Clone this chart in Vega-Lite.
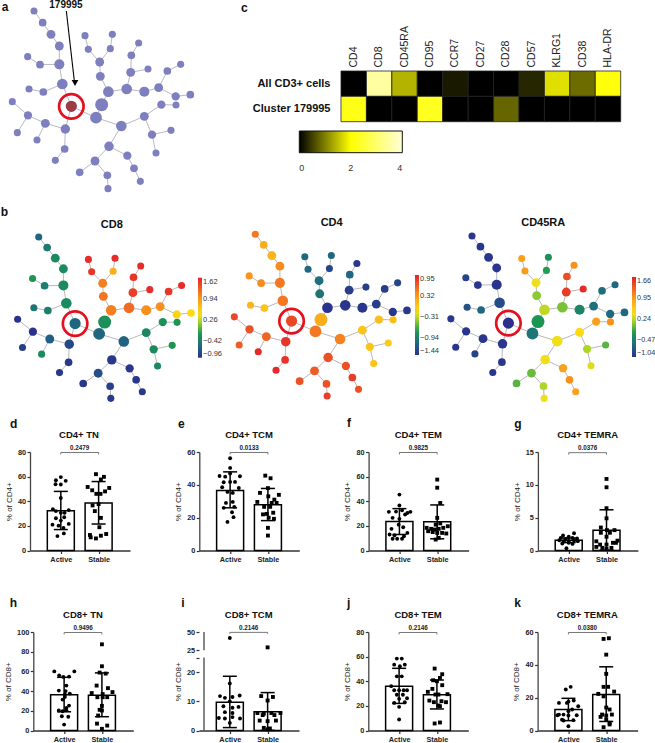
{"$schema":"https://vega.github.io/schema/vega-lite/v6.json","padding":0,"background":"white","bounds":"flush","spacing":0,
"config":{"view":{"stroke":null},"font":"Liberation Sans","text":{"font":"Liberation Sans"},
"axisX":{"grid":false,"domainColor":"#333","domainWidth":1.3,"tickColor":"#333","tickWidth":1.2,"tickSize":3,"labelFont":"Liberation Sans","labelFontSize":7.3,"labelFontWeight":"bold","labelColor":"#222","labelPadding":1.5,"labelAngle":0,"labelFlush":false},
"axisY":{"grid":false,"domainColor":"#444","domainWidth":1.3,"tickColor":"#333","tickWidth":1.2,"tickSize":3,"labelFont":"Liberation Sans","labelFontSize":7.3,"labelFontWeight":"bold","labelColor":"#222","labelPadding":1.5,"titleFont":"Liberation Sans","titleFontSize":8,"titleFontWeight":"normal","titleColor":"#222","titlePadding":4},
"title":{"font":"Liberation Sans","fontSize":9.5,"fontWeight":"bold","color":"#111","offset":13},
"legend":{"labelFont":"Liberation Sans","labelFontSize":7.5,"labelColor":"#333"}},
"datasets":{
"nodes":[{"id":1,"x":99,"y":30,"r":12,"cd8":-0.6,"cd4":0.5,"ra":-1},{"id":2,"x":125,"y":65,"r":13,"cd8":-0.45,"cd4":0.2,"ra":-1},{"id":3,"x":150,"y":100,"r":15,"cd8":-0.3,"cd4":0.15,"ra":-1},{"id":4,"x":175,"y":135,"r":15,"cd8":-0.3,"cd4":0.4,"ra":-1},{"id":5,"x":175,"y":190,"r":17,"cd8":-0.3,"cd4":0.5,"ra":-1},{"id":6,"x":184,"y":249,"r":18,"cd8":-0.3,"cd4":0.5,"ra":-0.85},{"id":7,"x":80,"y":167,"r":12,"cd8":-0.2,"cd4":0.35,"ra":-0.9},{"id":8,"x":117,"y":191,"r":13,"cd8":-0.4,"cd4":0.4,"ra":-1},{"id":9,"x":84,"y":264,"r":12,"cd8":-0.5,"cd4":0.15,"ra":-0.8},{"id":10,"x":127,"y":273,"r":13,"cd8":-0.4,"cd4":0.05,"ra":-0.65},{"id":11,"x":211,"y":316,"r":19,"cd8":-0.6,"cd4":0.75,"ra":-1.03},{"id":12,"x":34,"y":302,"r":12,"cd8":-0.95,"cd4":0.75,"ra":-1},{"id":13,"x":81,"y":343,"r":14,"cd8":-0.95,"cd4":0.7,"ra":-1},{"id":14,"x":49,"y":395,"r":12,"cd8":-0.85,"cd4":0.65,"ra":-1},{"id":15,"x":133,"y":367,"r":15,"cd8":-0.65,"cd4":0.6,"ra":-1},{"id":16,"x":108,"y":417,"r":12,"cd8":-0.3,"cd4":0.9,"ra":-0.9},{"id":17,"x":193,"y":384,"r":16,"cd8":-0.8,"cd4":0.85,"ra":-1},{"id":18,"x":191,"y":444,"r":13,"cd8":-0.9,"cd4":0.85,"ra":-1},{"id":19,"x":163,"y":478,"r":12,"cd8":-0.9,"cd4":0.9,"ra":-1},{"id":20,"x":285,"y":350,"r":20,"cd8":-0.6,"cd4":0.5,"ra":-0.55},{"id":21,"x":302,"y":311,"r":22,"cd8":-0.25,"cd4":0.2,"ra":-0.25},{"id":22,"x":322,"y":272,"r":18,"cd8":1.1,"cd4":-1.43,"ra":0.25},{"id":23,"x":298,"y":226,"r":15,"cd8":1.15,"cd4":-1,"ra":0.1},{"id":24,"x":296,"y":183,"r":15,"cd8":1.1,"cd4":-1.05,"ra":0.4},{"id":25,"x":262,"y":145,"r":12,"cd8":1.5,"cd4":-1.1,"ra":0.95},{"id":26,"x":252,"y":104,"r":12,"cd8":1.55,"cd4":-1.1,"ra":0.9},{"id":27,"x":328,"y":143,"r":12,"cd8":0.8,"cd4":-1.3,"ra":-0.2},{"id":28,"x":334,"y":100,"r":12,"cd8":1.55,"cd4":-1.1,"ra":-0.3},{"id":29,"x":377,"y":264,"r":18,"cd8":1.2,"cd4":-1.4,"ra":0.05},{"id":30,"x":389,"y":214,"r":15,"cd8":1.45,"cd4":-1.35,"ra":1.5},{"id":31,"x":391,"y":163,"r":13,"cd8":1.5,"cd4":-1.1,"ra":1.4},{"id":32,"x":413,"y":126,"r":12,"cd8":1.55,"cd4":-1.4,"ra":1},{"id":33,"x":441,"y":204,"r":12,"cd8":1.55,"cd4":-1.35,"ra":1.6},{"id":34,"x":430,"y":272,"r":17,"cd8":1,"cd4":-1.4,"ra":-0.4},{"id":35,"x":473,"y":260,"r":15,"cd8":1,"cd4":-1.35,"ra":-0.6},{"id":36,"x":499,"y":210,"r":13,"cd8":1.5,"cd4":-1.35,"ra":-0.6},{"id":37,"x":539,"y":190,"r":12,"cd8":1.55,"cd4":-1.3,"ra":-0.65},{"id":38,"x":524,"y":286,"r":14,"cd8":0.55,"cd4":-1.4,"ra":-0.65},{"id":39,"x":568,"y":281,"r":13,"cd8":0.5,"cd4":-1.4,"ra":-0.65},{"id":40,"x":361,"y":375,"r":18,"cd8":-0.62,"cd4":0.45,"ra":0.4},{"id":41,"x":430,"y":346,"r":15,"cd8":-0.35,"cd4":0.05,"ra":0.5},{"id":42,"x":481,"y":311,"r":14,"cd8":-0.25,"cd4":0.1,"ra":0.9},{"id":43,"x":525,"y":312,"r":12,"cd8":-0.2,"cd4":0.1,"ra":1},{"id":44,"x":453,"y":401,"r":14,"cd8":-0.3,"cd4":0.05,"ra":0.2},{"id":45,"x":510,"y":388,"r":12,"cd8":-0.2,"cd4":0.02,"ra":-0.05},{"id":46,"x":465,"y":456,"r":12,"cd8":-0.3,"cd4":0.05,"ra":0.35},{"id":47,"x":324,"y":436,"r":16,"cd8":-0.9,"cd4":0.7,"ra":0.4},{"id":48,"x":379,"y":464,"r":14,"cd8":-0.9,"cd4":0.7,"ra":0.9},{"id":49,"x":399,"y":502,"r":13,"cd8":-0.9,"cd4":0.8,"ra":1},{"id":50,"x":418,"y":541,"r":12,"cd8":-0.9,"cd4":0.7,"ra":0.9},{"id":51,"x":282,"y":480,"r":15,"cd8":-0.75,"cd4":0.65,"ra":0},{"id":52,"x":236,"y":514,"r":13,"cd8":-0.9,"cd4":0.7,"ra":-0.05},{"id":53,"x":319,"y":523,"r":13,"cd8":-0.85,"cd4":0.7,"ra":0.2},{"id":54,"x":321,"y":563,"r":12,"cd8":-0.9,"cd4":0.8,"ra":0.4}],
"edges":[{"a":1,"b":2},{"a":2,"b":3},{"a":3,"b":4},{"a":4,"b":5},{"a":5,"b":6},{"a":5,"b":8},{"a":8,"b":7},{"a":6,"b":10},{"a":10,"b":9},{"a":6,"b":11},{"a":11,"b":20},{"a":11,"b":17},{"a":17,"b":15},{"a":15,"b":13},{"a":13,"b":12},{"a":13,"b":14},{"a":15,"b":16},{"a":17,"b":18},{"a":18,"b":19},{"a":20,"b":21},{"a":21,"b":22},{"a":22,"b":23},{"a":23,"b":24},{"a":24,"b":25},{"a":25,"b":26},{"a":24,"b":27},{"a":27,"b":28},{"a":22,"b":29},{"a":29,"b":30},{"a":30,"b":31},{"a":31,"b":32},{"a":30,"b":33},{"a":29,"b":34},{"a":34,"b":35},{"a":35,"b":36},{"a":36,"b":37},{"a":35,"b":38},{"a":38,"b":39},{"a":20,"b":40},{"a":40,"b":41},{"a":41,"b":42},{"a":42,"b":43},{"a":41,"b":44},{"a":44,"b":45},{"a":44,"b":46},{"a":40,"b":47},{"a":47,"b":48},{"a":48,"b":49},{"a":49,"b":50},{"a":47,"b":51},{"a":51,"b":52},{"a":51,"b":53},{"a":53,"b":54}]
},
"vconcat":[
{"bounds":"flush","spacing":68.3,"resolve":{"scale":{"color":"independent"},"legend":{"color":"independent"}},"hconcat":[
{"width":230,"height":190,"layer":[
{"data":{"name":"edges"},"transform":[{"lookup":"a","from":{"data":{"name":"nodes"},"key":"id","fields":["x","y"]},"as":["x1","y1"]},{"lookup":"b","from":{"data":{"name":"nodes"},"key":"id","fields":["x","y"]},"as":["x2","y2"]}],"mark":{"type":"rule","stroke":"#b9b9c4","strokeWidth":1},"encoding":{"x":{"field":"x1","type":"quantitative","scale":{"domain":[0,690],"nice":false},"axis":null},"y":{"field":"y1","type":"quantitative","scale":{"domain":[0,570],"reverse":true,"nice":false},"axis":null},"x2":{"field":"x2"},"y2":{"field":"y2"}}},
{"data":{"name":"nodes"},"mark":{"type":"circle","opacity":1},"encoding":{"x":{"field":"x","type":"quantitative"},"y":{"field":"y","type":"quantitative"},"size":{"field":"r","type":"quantitative","scale":{"type":"pow","exponent":2,"domain":[0,22],"range":[0,169]},"legend":null},"color":{"condition":{"test":"datum.id==11","value":"#9a3d45"},"value":"#7e7fbe"}}},
{"data":{"name":"nodes"},"transform":[{"filter":"datum.id==11"}],"mark":{"type":"point","size":600,"filled":false,"stroke":"#e5101d","strokeWidth":2.7,"opacity":1},"encoding":{"x":{"field":"x","type":"quantitative"},"y":{"field":"y","type":"quantitative"}}},
{"data":{"values":[{"x":196,"y":30,"x2":220,"y2":240}]},"mark":{"type":"rule","stroke":"#000","strokeWidth":1.1},"encoding":{"x":{"field":"x","type":"quantitative"},"y":{"field":"y","type":"quantitative"},"x2":{"field":"x2"},"y2":{"field":"y2"}}},
{"data":{"values":[{"x":222,"y":246}]},"mark":{"type":"point","shape":"triangle-down","filled":true,"size":45,"fill":"#000","opacity":1},"encoding":{"x":{"field":"x","type":"quantitative"},"y":{"field":"y","type":"quantitative"}}},
{"data":{"values":[{"x":195,"y":13,"t":"179995"}]},"mark":{"type":"text","fontSize":10,"fontWeight":"bold","color":"#111"},"encoding":{"x":{"field":"x","type":"quantitative"},"y":{"field":"y","type":"quantitative"},"text":{"field":"t"}}},
{"data":{"values":[{"x":12,"y":18,"t":"a"}]},"mark":{"type":"text","fontSize":12,"fontWeight":"bold","color":"#111"},"encoding":{"x":{"field":"x","type":"quantitative"},"y":{"field":"y","type":"quantitative"},"text":{"field":"t"}}}
]},
{"width":321.4,"height":190,"title":{"text":"c","anchor":"start","frame":"group","dx":-58.3,"dy":14,"fontSize":12,"offset":0},
"data":{"values":[{"m":"CD4","r":"All CD3+ cells","v":0},{"m":"CD8","r":"All CD3+ cells","v":3.5},{"m":"CD45RA","r":"All CD3+ cells","v":1.4},{"m":"CD95","r":"All CD3+ cells","v":0},{"m":"CCR7","r":"All CD3+ cells","v":0.2},{"m":"CD27","r":"All CD3+ cells","v":0},{"m":"CD28","r":"All CD3+ cells","v":0},{"m":"CD57","r":"All CD3+ cells","v":0.3},{"m":"KLRG1","r":"All CD3+ cells","v":1.75},{"m":"CD38","r":"All CD3+ cells","v":0.85},{"m":"HLA-DR","r":"All CD3+ cells","v":2.1},{"m":"CD4","r":"Cluster 179995","v":2.2},{"m":"CD8","r":"Cluster 179995","v":0},{"m":"CD45RA","r":"Cluster 179995","v":0},{"m":"CD95","r":"Cluster 179995","v":2.3},{"m":"CCR7","r":"Cluster 179995","v":0},{"m":"CD27","r":"Cluster 179995","v":0},{"m":"CD28","r":"Cluster 179995","v":0.8},{"m":"CD57","r":"Cluster 179995","v":0},{"m":"KLRG1","r":"Cluster 179995","v":0},{"m":"CD38","r":"Cluster 179995","v":0},{"m":"HLA-DR","r":"Cluster 179995","v":0}]},
"mark":{"type":"rect","stroke":"#222","strokeWidth":0.8},
"encoding":{"x":{"field":"m","type":"nominal","sort":null,"scale":{"type":"band","range":[41.7,321.4],"paddingInner":0,"paddingOuter":0},"axis":{"orient":"top","offset":-70,"title":null,"domain":false,"ticks":false,"labelAngle":-90,"labelFontSize":10.5,"labelFontWeight":"normal","labelColor":"#222","labelPadding":4}},
"y":{"field":"r","type":"nominal","sort":null,"scale":{"type":"band","range":[70,120.7],"paddingInner":0,"paddingOuter":0},"axis":{"offset":-41.7,"title":null,"domain":false,"ticks":false,"labelFontSize":11,"labelFontWeight":"bold","labelColor":"#111","labelPadding":11}},
"color":{"field":"v","type":"quantitative","scale":{"domain":[0,2,4],"range":["#000000","#ffff00","#ffffd8"],"interpolate":"rgb"},"legend":{"orient":"none","direction":"horizontal","legendX":0,"legendY":130,"title":null,"gradientLength":103,"gradientThickness":21.7,"values":[0,2,4],"labelFontSize":9,"gradientStrokeColor":"#111","gradientStrokeWidth":1,"labelOffset":11}}}}
]},
{"width":1,"height":226,"data":{"values":[{"a":1}]},"mark":{"type":"point","opacity":0,"size":0,"strokeWidth":0},"encoding":{}},
{"bounds":"flush","spacing":0,"resolve":{"scale":{"color":"independent"}},"hconcat":[
{"width":222,"height":173,"layer":[
{"data":{"name":"edges"},"transform":[{"lookup":"a","from":{"data":{"name":"nodes"},"key":"id","fields":["x","y"]},"as":["x1","y1"]},{"lookup":"b","from":{"data":{"name":"nodes"},"key":"id","fields":["x","y"]},"as":["x2","y2"]}],"mark":{"type":"rule","stroke":"#b9b9b9","strokeWidth":1},"encoding":{"x":{"field":"x1","type":"quantitative","scale":{"domain":[-17.2,666.5],"nice":false},"axis":null},"y":{"field":"y1","type":"quantitative","scale":{"domain":[-3,568.5],"reverse":true,"nice":false},"axis":null},"x2":{"field":"x2"},"y2":{"field":"y2"}}},
{"data":{"name":"nodes"},"mark":{"type":"circle","opacity":1},"encoding":{"x":{"field":"x","type":"quantitative"},"y":{"field":"y","type":"quantitative"},"size":{"field":"r","type":"quantitative","scale":{"type":"pow","exponent":2,"domain":[0,22],"range":[0,169]},"legend":null},"color":{"field":"cd8","type":"quantitative","scale":{"domain":[-0.96,-0.573,-0.186,0.201,0.459,0.975,1.62],"range":["#2b2f8f","#1f6a80","#1a9850","#a6d42c","#ffe014","#f8951d","#e3202a"],"interpolate":"rgb"},"legend":{"orient":"none","legendX":197,"legendY":50.7,"title":null,"gradientLength":80,"gradientThickness":4,"labelOffset":1,"values":[-0.96,-0.42,0.26,0.94,1.62],"format":".2f"}}}},
{"data":{"name":"nodes"},"transform":[{"filter":"datum.id==11"}],"mark":{"type":"point","size":600,"filled":false,"stroke":"#e5101d","strokeWidth":2.7,"opacity":1},"encoding":{"x":{"field":"x","type":"quantitative"},"y":{"field":"y","type":"quantitative"}}},
{"data":{"values":[{"x":324,"y":-8.6,"t":"CD8"}]},"mark":{"type":"text","fontSize":11,"fontWeight":"bold","color":"#111"},"encoding":{"x":{"field":"x","type":"quantitative"},"y":{"field":"y","type":"quantitative"},"text":{"field":"t"}}},
{"data":{"values":[{"x":-7,"y":-53.6,"t":"b"}]},"mark":{"type":"text","fontSize":12,"fontWeight":"bold","color":"#111"},"encoding":{"x":{"field":"x","type":"quantitative"},"y":{"field":"y","type":"quantitative"},"text":{"field":"t"}}}
]},
{"width":222,"height":173,"layer":[
{"data":{"name":"edges"},"transform":[{"lookup":"a","from":{"data":{"name":"nodes"},"key":"id","fields":["x","y"]},"as":["x1","y1"]},{"lookup":"b","from":{"data":{"name":"nodes"},"key":"id","fields":["x","y"]},"as":["x2","y2"]}],"mark":{"type":"rule","stroke":"#b9b9b9","strokeWidth":1},"encoding":{"x":{"field":"x1","type":"quantitative","scale":{"domain":[-1,685.5],"nice":false},"axis":null},"y":{"field":"y1","type":"quantitative","scale":{"domain":[5.9,576.1],"reverse":true,"nice":false},"axis":null},"x2":{"field":"x2"},"y2":{"field":"y2"}}},
{"data":{"name":"nodes"},"mark":{"type":"circle","opacity":1},"encoding":{"x":{"field":"x","type":"quantitative"},"y":{"field":"y","type":"quantitative"},"size":{"field":"r","type":"quantitative","scale":{"type":"pow","exponent":2,"domain":[0,22],"range":[0,169]},"legend":null},"color":{"field":"cd4","type":"quantitative","scale":{"domain":[-1.44,-1.08,-0.723,-0.365,-0.126,0.353,0.95],"range":["#2b2f8f","#1f6a80","#1a9850","#a6d42c","#ffe014","#f8951d","#e3202a"],"interpolate":"rgb"},"legend":{"orient":"none","legendX":192,"legendY":48,"title":null,"gradientLength":80,"gradientThickness":4,"labelOffset":1,"values":[-1.44,-0.94,-0.31,0.32,0.95],"format":".2f"}}}},
{"data":{"name":"nodes"},"transform":[{"filter":"datum.id==11"}],"mark":{"type":"point","size":600,"filled":false,"stroke":"#e5101d","strokeWidth":2.7,"opacity":1},"encoding":{"x":{"field":"x","type":"quantitative"},"y":{"field":"y","type":"quantitative"}}},
{"data":{"values":[{"x":335,"y":-7.2,"t":"CD4"}]},"mark":{"type":"text","fontSize":11,"fontWeight":"bold","color":"#111"},"encoding":{"x":{"field":"x","type":"quantitative"},"y":{"field":"y","type":"quantitative"},"text":{"field":"t"}}}
]},
{"width":211,"height":173,"layer":[
{"data":{"name":"edges"},"transform":[{"lookup":"a","from":{"data":{"name":"nodes"},"key":"id","fields":["x","y"]},"as":["x1","y1"]},{"lookup":"b","from":{"data":{"name":"nodes"},"key":"id","fields":["x","y"]},"as":["x2","y2"]}],"mark":{"type":"rule","stroke":"#b9b9b9","strokeWidth":1},"encoding":{"x":{"field":"x1","type":"quantitative","scale":{"domain":[16,665],"nice":false},"axis":null},"y":{"field":"y1","type":"quantitative","scale":{"domain":[0.5,568.3],"reverse":true,"nice":false},"axis":null},"x2":{"field":"x2"},"y2":{"field":"y2"}}},
{"data":{"name":"nodes"},"mark":{"type":"circle","opacity":1},"encoding":{"x":{"field":"x","type":"quantitative"},"y":{"field":"y","type":"quantitative"},"size":{"field":"r","type":"quantitative","scale":{"type":"pow","exponent":2,"domain":[0,22],"range":[0,169]},"legend":null},"color":{"field":"ra","type":"quantitative","scale":{"domain":[-1.04,-0.635,-0.23,0.175,0.445,0.985,1.66],"range":["#2b2f8f","#1f6a80","#1a9850","#a6d42c","#ffe014","#f8951d","#e3202a"],"interpolate":"rgb"},"legend":{"orient":"none","legendX":187,"legendY":50,"title":null,"gradientLength":80,"gradientThickness":4,"labelOffset":1,"labelFontSize":7.2,"values":[-1.04,-0.47,0.24,0.95,1.66],"format":".2f"}}}},
{"data":{"name":"nodes"},"transform":[{"filter":"datum.id==11"}],"mark":{"type":"point","size":600,"filled":false,"stroke":"#e5101d","strokeWidth":2.7,"opacity":1},"encoding":{"x":{"field":"x","type":"quantitative"},"y":{"field":"y","type":"quantitative"}}},
{"data":{"values":[{"x":318,"y":-12.7,"t":"CD45RA"}]},"mark":{"type":"text","fontSize":11,"fontWeight":"bold","color":"#111"},"encoding":{"x":{"field":"x","type":"quantitative"},"y":{"field":"y","type":"quantitative"},"text":{"field":"t"}}}
]}
]},
{"width":1,"height":224.7,"data":{"values":[{"a":1}]},"mark":{"type":"point","opacity":0,"size":0,"strokeWidth":0},"encoding":{}},
{"bounds":"flush","spacing":28,"hconcat":[
{"width":1,"height":1,"data":{"values":[{"a":1}]},"mark":{"type":"point","opacity":0,"size":0,"strokeWidth":0},"encoding":{}},
{"bounds":"flush","spacing":69.3,"hconcat":[
{"width":100,"height":98.5,"encoding":{"x":{"field":"x","type":"quantitative","scale":{"domain":[0.317,2.698],"nice":false,"zero":false},"axis":{"values":[1,2],"labelExpr":"datum.value==1?'Active':'Stable'","title":null}},"y":{"field":"y","type":"quantitative","scale":{"domain":[0,80],"nice":false},"axis":{"values":[0,20,40,60,80],"title":"% of CD4+"}}},"layer":[
{"data":{"values":[{"x":1,"y":32.3,"lo":17,"hi":48},{"x":2,"y":38.5,"lo":21.5,"hi":56}]},"layer":[{"mark":{"type":"bar","orient":"vertical","size":27,"fill":"white","stroke":"black","strokeWidth":1.5}}, {"mark":{"type":"rule","stroke":"black","strokeWidth":1.5},"encoding":{"y":{"field":"lo","type":"quantitative"},"y2":{"field":"hi"}}},{"mark":{"type":"tick","orient":"horizontal","size":14,"thickness":1.5,"color":"black","opacity":1},"encoding":{"y":{"field":"lo","type":"quantitative"}}},{"mark":{"type":"tick","orient":"horizontal","size":14,"thickness":1.5,"color":"black","opacity":1},"encoding":{"y":{"field":"hi","type":"quantitative"}}}]},
{"data":{"values":[{"x":0.87,"y":57.1,"g":"Active"},{"x":1,"y":59.6,"g":"Active"},{"x":1.13,"y":56.6,"g":"Active"},{"x":0.86,"y":53.8,"g":"Active"},{"x":1,"y":53.6,"g":"Active"},{"x":1,"y":42.6,"g":"Active"},{"x":0.79,"y":33.6,"g":"Active"},{"x":1.21,"y":32.8,"g":"Active"},{"x":0.87,"y":32,"g":"Active"},{"x":1,"y":30.6,"g":"Active"},{"x":1.1,"y":30.6,"g":"Active"},{"x":0.87,"y":26.2,"g":"Active"},{"x":1.09,"y":27,"g":"Active"},{"x":1,"y":24.3,"g":"Active"},{"x":0.78,"y":21,"g":"Active"},{"x":0.94,"y":20.2,"g":"Active"},{"x":1.21,"y":21.6,"g":"Active"},{"x":1.07,"y":18.3,"g":"Active"},{"x":0.91,"y":11.7,"g":"Active"},{"x":1.08,"y":13.9,"g":"Active"},{"x":1.93,"y":62,"g":"Stable"},{"x":2.14,"y":59.8,"g":"Stable"},{"x":2.06,"y":57.7,"g":"Stable"},{"x":1.71,"y":51.6,"g":"Stable"},{"x":2.28,"y":50.8,"g":"Stable"},{"x":1.83,"y":48.9,"g":"Stable"},{"x":2.17,"y":48,"g":"Stable"},{"x":1.94,"y":46,"g":"Stable"},{"x":2.05,"y":46,"g":"Stable"},{"x":2,"y":37.7,"g":"Stable"},{"x":1.84,"y":36.6,"g":"Stable"},{"x":1.9,"y":32,"g":"Stable"},{"x":2.06,"y":26.5,"g":"Stable"},{"x":2.02,"y":18.9,"g":"Stable"},{"x":1.77,"y":12.6,"g":"Stable"},{"x":2.2,"y":13.4,"g":"Stable"},{"x":2.06,"y":12,"g":"Stable"},{"x":1.79,"y":10.7,"g":"Stable"},{"x":1.93,"y":9.8,"g":"Stable"}]},"mark":{"type":"point","filled":true,"size":15,"color":"black","opacity":1},"encoding":{"shape":{"field":"g","scale":{"domain":["Active","Stable"],"range":["circle","square"]},"legend":null}}},
{"data":{"values":[{"x":1,"y":78,"o":1},{"x":1,"y":79.6,"o":2},{"x":2,"y":79.6,"o":3},{"x":2,"y":78,"o":4}]},"mark":{"type":"line","stroke":"#777","strokeWidth":1},"encoding":{"order":{"field":"o"}}},
{"data":{"values":[{"x":1.5,"y":80,"t":"0.2479"}]},"mark":{"type":"text","fontSize":6.3,"fontWeight":"bold","baseline":"bottom","dy":-1,"color":"#222"},"encoding":{"text":{"field":"t"}}},
{"data":{"values":[{"x":1.48,"y":93.8,"t":"CD4+ TN"}]},"mark":{"type":"text","fontSize":9.5,"fontWeight":"bold","color":"#111"},"encoding":{"text":{"field":"t"}}},
{"data":{"values":[{"x":-0.245,"y":102.8,"t":"d"}]},"mark":{"type":"text","fontSize":12,"fontWeight":"bold","color":"#111"},"encoding":{"text":{"field":"t"}}}
]},
{"width":100,"height":98.5,"encoding":{"x":{"field":"x","type":"quantitative","scale":{"domain":[0.317,2.698],"nice":false,"zero":false},"axis":{"values":[1,2],"labelExpr":"datum.value==1?'Active':'Stable'","title":null}},"y":{"field":"y","type":"quantitative","scale":{"domain":[0,60],"nice":false},"axis":{"values":[0,20,40,60],"title":"% of CD4+"}}},"layer":[
{"data":{"values":[{"x":1,"y":36.5,"lo":26,"hi":47.9},{"x":2,"y":27.8,"lo":18.2,"hi":37.8}]},"layer":[{"mark":{"type":"bar","orient":"vertical","size":27,"fill":"white","stroke":"black","strokeWidth":1.5}}, {"mark":{"type":"rule","stroke":"black","strokeWidth":1.5},"encoding":{"y":{"field":"lo","type":"quantitative"},"y2":{"field":"hi"}}},{"mark":{"type":"tick","orient":"horizontal","size":14,"thickness":1.5,"color":"black","opacity":1},"encoding":{"y":{"field":"lo","type":"quantitative"}}},{"mark":{"type":"tick","orient":"horizontal","size":14,"thickness":1.5,"color":"black","opacity":1},"encoding":{"y":{"field":"hi","type":"quantitative"}}}]},
{"data":{"values":[{"x":1,"y":56.2,"g":"Active"},{"x":1,"y":50.3,"g":"Active"},{"x":0.72,"y":45.4,"g":"Active"},{"x":0.87,"y":45,"g":"Active"},{"x":1,"y":46.9,"g":"Active"},{"x":1.26,"y":45.2,"g":"Active"},{"x":0.83,"y":41.6,"g":"Active"},{"x":1,"y":41.8,"g":"Active"},{"x":1.13,"y":41.8,"g":"Active"},{"x":0.79,"y":38.5,"g":"Active"},{"x":1.23,"y":38.1,"g":"Active"},{"x":0.93,"y":35.7,"g":"Active"},{"x":1.07,"y":35.1,"g":"Active"},{"x":0.89,"y":29,"g":"Active"},{"x":1.07,"y":29.6,"g":"Active"},{"x":0.83,"y":26,"g":"Active"},{"x":1.11,"y":26.6,"g":"Active"},{"x":1.05,"y":23.3,"g":"Active"},{"x":1.09,"y":20.3,"g":"Active"},{"x":0.93,"y":17.4,"g":"Active"},{"x":1.93,"y":45.6,"g":"Stable"},{"x":2.07,"y":44,"g":"Stable"},{"x":2,"y":38,"g":"Stable"},{"x":1.79,"y":35.1,"g":"Stable"},{"x":2.29,"y":33.9,"g":"Stable"},{"x":2.01,"y":33,"g":"Stable"},{"x":1.72,"y":29.6,"g":"Stable"},{"x":2.17,"y":31,"g":"Stable"},{"x":2.1,"y":29,"g":"Stable"},{"x":2.23,"y":29,"g":"Stable"},{"x":1.9,"y":26.6,"g":"Stable"},{"x":2.06,"y":26.6,"g":"Stable"},{"x":1.87,"y":22,"g":"Stable"},{"x":1.97,"y":22.3,"g":"Stable"},{"x":2.14,"y":23,"g":"Stable"},{"x":2.02,"y":20,"g":"Stable"},{"x":2.16,"y":19.3,"g":"Stable"},{"x":2,"y":13.8,"g":"Stable"},{"x":2,"y":9.1,"g":"Stable"}]},"mark":{"type":"point","filled":true,"size":15,"color":"black","opacity":1},"encoding":{"shape":{"field":"g","scale":{"domain":["Active","Stable"],"range":["circle","square"]},"legend":null}}},
{"data":{"values":[{"x":1,"y":58.5,"o":1},{"x":1,"y":59.7,"o":2},{"x":2,"y":59.7,"o":3},{"x":2,"y":58.5,"o":4}]},"mark":{"type":"line","stroke":"#777","strokeWidth":1},"encoding":{"order":{"field":"o"}}},
{"data":{"values":[{"x":1.5,"y":60,"t":"0.0133"}]},"mark":{"type":"text","fontSize":6.3,"fontWeight":"bold","baseline":"bottom","dy":-1,"color":"#222"},"encoding":{"text":{"field":"t"}}},
{"data":{"values":[{"x":1.5,"y":70.4,"t":"CD4+ TCM"}]},"mark":{"type":"text","fontSize":9.5,"fontWeight":"bold","color":"#111"},"encoding":{"text":{"field":"t"}}},
{"data":{"values":[{"x":-0.293,"y":77.1,"t":"e"}]},"mark":{"type":"text","fontSize":12,"fontWeight":"bold","color":"#111"},"encoding":{"text":{"field":"t"}}}
]},
{"width":100,"height":98.5,"encoding":{"x":{"field":"x","type":"quantitative","scale":{"domain":[0.317,2.698],"nice":false,"zero":false},"axis":{"values":[1,2],"labelExpr":"datum.value==1?'Active':'Stable'","title":null}},"y":{"field":"y","type":"quantitative","scale":{"domain":[0,80],"nice":false},"axis":{"values":[0,20,40,60,80],"title":"% of CD4+"}}},"layer":[
{"data":{"values":[{"x":1,"y":23.5,"lo":13,"hi":34},{"x":2,"y":23.3,"lo":9.5,"hi":37}]},"layer":[{"mark":{"type":"bar","orient":"vertical","size":27,"fill":"white","stroke":"black","strokeWidth":1.5}}, {"mark":{"type":"rule","stroke":"black","strokeWidth":1.5},"encoding":{"y":{"field":"lo","type":"quantitative"},"y2":{"field":"hi"}}},{"mark":{"type":"tick","orient":"horizontal","size":14,"thickness":1.5,"color":"black","opacity":1},"encoding":{"y":{"field":"lo","type":"quantitative"}}},{"mark":{"type":"tick","orient":"horizontal","size":14,"thickness":1.5,"color":"black","opacity":1},"encoding":{"y":{"field":"hi","type":"quantitative"}}}]},
{"data":{"values":[{"x":1,"y":45.4,"g":"Active"},{"x":1,"y":36.5,"g":"Active"},{"x":0.72,"y":31.4,"g":"Active"},{"x":0.91,"y":31.6,"g":"Active"},{"x":1.07,"y":32.7,"g":"Active"},{"x":1.29,"y":31.4,"g":"Active"},{"x":1.21,"y":30.5,"g":"Active"},{"x":1.15,"y":29.2,"g":"Active"},{"x":0.82,"y":26.5,"g":"Active"},{"x":1,"y":25.7,"g":"Active"},{"x":0.98,"y":21,"g":"Active"},{"x":1.1,"y":18.9,"g":"Active"},{"x":0.74,"y":13,"g":"Active"},{"x":0.87,"y":12.4,"g":"Active"},{"x":1.21,"y":14.3,"g":"Active"},{"x":0.82,"y":9.5,"g":"Active"},{"x":0.94,"y":9.5,"g":"Active"},{"x":1.07,"y":9.5,"g":"Active"},{"x":0.79,"y":17.6,"g":"Active"},{"x":1.12,"y":11.6,"g":"Active"},{"x":2,"y":57.6,"g":"Stable"},{"x":2,"y":51,"g":"Stable"},{"x":2.08,"y":38.6,"g":"Stable"},{"x":2,"y":26.5,"g":"Stable"},{"x":1.96,"y":21,"g":"Stable"},{"x":2.08,"y":22,"g":"Stable"},{"x":1.72,"y":18.4,"g":"Stable"},{"x":1.84,"y":17.6,"g":"Stable"},{"x":1.94,"y":17,"g":"Stable"},{"x":2.04,"y":17.6,"g":"Stable"},{"x":2.16,"y":18.4,"g":"Stable"},{"x":2.28,"y":19.7,"g":"Stable"},{"x":1.76,"y":15.7,"g":"Stable"},{"x":1.88,"y":15,"g":"Stable"},{"x":2,"y":14.3,"g":"Stable"},{"x":2.13,"y":14.3,"g":"Stable"},{"x":2.24,"y":13.8,"g":"Stable"},{"x":1.96,"y":8.9,"g":"Stable"},{"x":2.04,"y":10.3,"g":"Stable"}]},"mark":{"type":"point","filled":true,"size":15,"color":"black","opacity":1},"encoding":{"shape":{"field":"g","scale":{"domain":["Active","Stable"],"range":["circle","square"]},"legend":null}}},
{"data":{"values":[{"x":1,"y":78,"o":1},{"x":1,"y":79.6,"o":2},{"x":2,"y":79.6,"o":3},{"x":2,"y":78,"o":4}]},"mark":{"type":"line","stroke":"#777","strokeWidth":1},"encoding":{"order":{"field":"o"}}},
{"data":{"values":[{"x":1.5,"y":80,"t":"0.9825"}]},"mark":{"type":"text","fontSize":6.3,"fontWeight":"bold","baseline":"bottom","dy":-1,"color":"#222"},"encoding":{"text":{"field":"t"}}},
{"data":{"values":[{"x":1.5,"y":93.8,"t":"CD4+ TEM"}]},"mark":{"type":"text","fontSize":9.5,"fontWeight":"bold","color":"#111"},"encoding":{"text":{"field":"t"}}},
{"data":{"values":[{"x":-0.333,"y":103.6,"t":"f"}]},"mark":{"type":"text","fontSize":12,"fontWeight":"bold","color":"#111"},"encoding":{"text":{"field":"t"}}}
]},
{"width":100,"height":98.5,"encoding":{"x":{"field":"x","type":"quantitative","scale":{"domain":[0.317,2.698],"nice":false,"zero":false},"axis":{"values":[1,2],"labelExpr":"datum.value==1?'Active':'Stable'","title":null}},"y":{"field":"y","type":"quantitative","scale":{"domain":[0,15],"nice":false},"axis":{"values":[0,5,10,15],"title":"% of CD4+"}}},"layer":[
{"data":{"values":[{"x":1,"y":1.55,"lo":1.2,"hi":1.9},{"x":2,"y":3.1,"lo":0.05,"hi":6.2}]},"layer":[{"mark":{"type":"bar","orient":"vertical","size":27,"fill":"white","stroke":"black","strokeWidth":1.5}}, {"mark":{"type":"rule","stroke":"black","strokeWidth":1.5},"encoding":{"y":{"field":"lo","type":"quantitative"},"y2":{"field":"hi"}}},{"mark":{"type":"tick","orient":"horizontal","size":14,"thickness":1.5,"color":"black","opacity":1},"encoding":{"y":{"field":"lo","type":"quantitative"}}},{"mark":{"type":"tick","orient":"horizontal","size":14,"thickness":1.5,"color":"black","opacity":1},"encoding":{"y":{"field":"hi","type":"quantitative"}}}]},
{"data":{"values":[{"x":1.14,"y":2.63,"g":"Active"},{"x":0.85,"y":2.28,"g":"Active"},{"x":1,"y":2.1,"g":"Active"},{"x":0.79,"y":1.93,"g":"Active"},{"x":0.92,"y":1.77,"g":"Active"},{"x":1.1,"y":1.92,"g":"Active"},{"x":1.22,"y":1.82,"g":"Active"},{"x":0.75,"y":1.57,"g":"Active"},{"x":0.87,"y":1.42,"g":"Active"},{"x":1,"y":1.42,"g":"Active"},{"x":1.14,"y":1.52,"g":"Active"},{"x":1.24,"y":1.42,"g":"Active"},{"x":1,"y":1.17,"g":"Active"},{"x":0.83,"y":1.06,"g":"Active"},{"x":1.1,"y":1,"g":"Active"},{"x":0.94,"y":0.35,"g":"Active"},{"x":2,"y":10.9,"g":"Stable"},{"x":2,"y":9.63,"g":"Stable"},{"x":2,"y":6.44,"g":"Stable"},{"x":2,"y":4.9,"g":"Stable"},{"x":1.85,"y":3.5,"g":"Stable"},{"x":2.01,"y":3.1,"g":"Stable"},{"x":2.21,"y":3.1,"g":"Stable"},{"x":2.09,"y":2.7,"g":"Stable"},{"x":1.85,"y":2.7,"g":"Stable"},{"x":1.73,"y":1.4,"g":"Stable"},{"x":2.29,"y":1.5,"g":"Stable"},{"x":2.17,"y":1.17,"g":"Stable"},{"x":2,"y":2.1,"g":"Stable"},{"x":1.83,"y":0.9,"g":"Stable"},{"x":2,"y":0.9,"g":"Stable"},{"x":1.73,"y":0.55,"g":"Stable"},{"x":1.89,"y":0.4,"g":"Stable"},{"x":2,"y":0.25,"g":"Stable"},{"x":2.13,"y":0.4,"g":"Stable"},{"x":2.25,"y":1.17,"g":"Stable"}]},"mark":{"type":"point","filled":true,"size":15,"color":"black","opacity":1},"encoding":{"shape":{"field":"g","scale":{"domain":["Active","Stable"],"range":["circle","square"]},"legend":null}}},
{"data":{"values":[{"x":1,"y":14.6,"o":1},{"x":1,"y":14.9,"o":2},{"x":2,"y":14.9,"o":3},{"x":2,"y":14.6,"o":4}]},"mark":{"type":"line","stroke":"#777","strokeWidth":1},"encoding":{"order":{"field":"o"}}},
{"data":{"values":[{"x":1.5,"y":15,"t":"0.0376"}]},"mark":{"type":"text","fontSize":6.3,"fontWeight":"bold","baseline":"bottom","dy":-1,"color":"#222"},"encoding":{"text":{"field":"t"}}},
{"data":{"values":[{"x":1.5,"y":17.6,"t":"CD4+ TEMRA"}]},"mark":{"type":"text","fontSize":9.5,"fontWeight":"bold","color":"#111"},"encoding":{"text":{"field":"t"}}},
{"data":{"values":[{"x":-0.343,"y":19.2,"t":"g"}]},"mark":{"type":"text","fontSize":12,"fontWeight":"bold","color":"#111"},"encoding":{"text":{"field":"t"}}}
]}
]}]},
{"width":1,"height":180,"data":{"values":[{"a":1}]},"mark":{"type":"point","opacity":0,"size":0,"strokeWidth":0},"encoding":{}},
{"bounds":"flush","spacing":31.3,"hconcat":[
{"width":1,"height":1,"data":{"values":[{"a":1}]},"mark":{"type":"point","opacity":0,"size":0,"strokeWidth":0},"encoding":{}},
{"bounds":"flush","spacing":65.7,"hconcat":[
{"width":100,"height":98.5,"encoding":{"x":{"field":"x","type":"quantitative","scale":{"domain":[0.317,2.698],"nice":false,"zero":false},"axis":{"values":[1,2],"labelExpr":"datum.value==1?'Active':'Stable'","title":null}},"y":{"field":"y","type":"quantitative","scale":{"domain":[0,100],"nice":false},"axis":{"values":[0,20,40,60,80,100],"title":"% of CD8+"}}},"layer":[
{"data":{"values":[{"x":1,"y":36.3,"lo":19,"hi":54},{"x":2,"y":35.8,"lo":14,"hi":58.5}]},"layer":[{"mark":{"type":"bar","orient":"vertical","size":27,"fill":"white","stroke":"black","strokeWidth":1.5}}, {"mark":{"type":"rule","stroke":"black","strokeWidth":1.5},"encoding":{"y":{"field":"lo","type":"quantitative"},"y2":{"field":"hi"}}},{"mark":{"type":"tick","orient":"horizontal","size":14,"thickness":1.5,"color":"black","opacity":1},"encoding":{"y":{"field":"lo","type":"quantitative"}}},{"mark":{"type":"tick","orient":"horizontal","size":14,"thickness":1.5,"color":"black","opacity":1},"encoding":{"y":{"field":"hi","type":"quantitative"}}}]},
{"data":{"values":[{"x":0.74,"y":60,"g":"Active"},{"x":1.27,"y":60,"g":"Active"},{"x":0.87,"y":56,"g":"Active"},{"x":0.98,"y":54.4,"g":"Active"},{"x":1.13,"y":54.7,"g":"Active"},{"x":1.06,"y":45.6,"g":"Active"},{"x":0.86,"y":40.5,"g":"Active"},{"x":1.04,"y":40,"g":"Active"},{"x":1.02,"y":36.5,"g":"Active"},{"x":1.15,"y":37.5,"g":"Active"},{"x":0.96,"y":31.4,"g":"Active"},{"x":1.02,"y":34,"g":"Active"},{"x":1.13,"y":25.3,"g":"Active"},{"x":1.06,"y":23,"g":"Active"},{"x":0.86,"y":20.3,"g":"Active"},{"x":0.96,"y":19.6,"g":"Active"},{"x":1.06,"y":20.6,"g":"Active"},{"x":0.94,"y":14.5,"g":"Active"},{"x":1.11,"y":13.9,"g":"Active"},{"x":1,"y":6,"g":"Active"},{"x":2,"y":87.5,"g":"Stable"},{"x":2,"y":65.2,"g":"Stable"},{"x":1.94,"y":58.8,"g":"Stable"},{"x":2.1,"y":57.8,"g":"Stable"},{"x":1.86,"y":45.6,"g":"Stable"},{"x":2.16,"y":43,"g":"Stable"},{"x":1.73,"y":38,"g":"Stable"},{"x":2.28,"y":39,"g":"Stable"},{"x":2.02,"y":37,"g":"Stable"},{"x":1.88,"y":33.8,"g":"Stable"},{"x":2.02,"y":33.8,"g":"Stable"},{"x":2.14,"y":33.8,"g":"Stable"},{"x":2,"y":25,"g":"Stable"},{"x":1.94,"y":21,"g":"Stable"},{"x":1.9,"y":15.2,"g":"Stable"},{"x":2,"y":20.3,"g":"Stable"},{"x":1.87,"y":7,"g":"Stable"},{"x":2.14,"y":5,"g":"Stable"},{"x":2,"y":1.7,"g":"Stable"}]},"mark":{"type":"point","filled":true,"size":15,"color":"black","opacity":1},"encoding":{"shape":{"field":"g","scale":{"domain":["Active","Stable"],"range":["circle","square"]},"legend":null}}},
{"data":{"values":[{"x":1,"y":97.5,"o":1},{"x":1,"y":99.5,"o":2},{"x":2,"y":99.5,"o":3},{"x":2,"y":97.5,"o":4}]},"mark":{"type":"line","stroke":"#777","strokeWidth":1},"encoding":{"order":{"field":"o"}}},
{"data":{"values":[{"x":1.5,"y":100,"t":"0.9496"}]},"mark":{"type":"text","fontSize":6.3,"fontWeight":"bold","baseline":"bottom","dy":-1,"color":"#222"},"encoding":{"text":{"field":"t"}}},
{"data":{"values":[{"x":1.5,"y":117.3,"t":"CD8+ TN"}]},"mark":{"type":"text","fontSize":9.5,"fontWeight":"bold","color":"#111"},"encoding":{"text":{"field":"t"}}},
{"data":{"values":[{"x":-0.34,"y":129.4,"t":"h"}]},"mark":{"type":"text","fontSize":12,"fontWeight":"bold","color":"#111"},"encoding":{"text":{"field":"t"}}}
]},
{"bounds":"flush","spacing":69.3,"hconcat":[
{"width":100,"height":98.5,"encoding":{"x":{"field":"x","type":"quantitative","scale":{"domain":[0.317,2.698],"nice":false,"zero":false},"axis":{"values":[1,2],"labelExpr":"datum.value==1?'Active':'Stable'","title":null}},"y":{"field":"y","type":"quantitative","scale":{"domain":[0,25,25.01,50],"range":[98.5,25.6,18.3,0],"nice":false},"axis":{"values":[0,10,20,25,25.01,50],"labelExpr":"datum.value==25?'':datum.value==25.01?'25':datum.label","title":"% of CD8+","domain":false}}},"layer":[
{"data":{"values":[{"x":0.317,"y":0,"y2":25},{"x":0.317,"y":25.01,"y2":50}]},"mark":{"type":"rule","stroke":"#444","strokeWidth":1.3},"encoding":{"y2":{"field":"y2"}}},
{"data":{"values":[{"x":1,"y":9.7,"lo":1,"hi":18.6},{"x":2,"y":6.4,"lo":0.05,"hi":13}]},"layer":[{"mark":{"type":"bar","orient":"vertical","size":27,"fill":"white","stroke":"black","strokeWidth":1.5}}, {"mark":{"type":"rule","stroke":"black","strokeWidth":1.5},"encoding":{"y":{"field":"lo","type":"quantitative"},"y2":{"field":"hi"}}},{"mark":{"type":"tick","orient":"horizontal","size":14,"thickness":1.5,"color":"black","opacity":1},"encoding":{"y":{"field":"lo","type":"quantitative"}}},{"mark":{"type":"tick","orient":"horizontal","size":14,"thickness":1.5,"color":"black","opacity":1},"encoding":{"y":{"field":"hi","type":"quantitative"}}}]},
{"data":{"values":[{"x":1,"y":41.8,"g":"Active"},{"x":1,"y":16.1,"g":"Active"},{"x":0.74,"y":11.8,"g":"Active"},{"x":0.87,"y":11.2,"g":"Active"},{"x":1.07,"y":11.5,"g":"Active"},{"x":1.26,"y":12,"g":"Active"},{"x":1,"y":10,"g":"Active"},{"x":0.83,"y":8.3,"g":"Active"},{"x":1.07,"y":7.8,"g":"Active"},{"x":1.23,"y":8.1,"g":"Active"},{"x":0.87,"y":6.3,"g":"Active"},{"x":1.07,"y":6,"g":"Active"},{"x":0.71,"y":4.3,"g":"Active"},{"x":0.87,"y":4.1,"g":"Active"},{"x":1.07,"y":4.6,"g":"Active"},{"x":1.27,"y":4.1,"g":"Active"},{"x":1,"y":2.6,"g":"Active"},{"x":2,"y":29,"g":"Stable"},{"x":1.83,"y":11.8,"g":"Stable"},{"x":2.14,"y":11.5,"g":"Stable"},{"x":2,"y":10.3,"g":"Stable"},{"x":1.73,"y":6,"g":"Stable"},{"x":1.9,"y":5.8,"g":"Stable"},{"x":2.1,"y":6,"g":"Stable"},{"x":2.34,"y":6,"g":"Stable"},{"x":1.79,"y":3.4,"g":"Stable"},{"x":2,"y":3.2,"g":"Stable"},{"x":2.22,"y":3.4,"g":"Stable"},{"x":1.9,"y":0.9,"g":"Stable"},{"x":2.06,"y":0.7,"g":"Stable"},{"x":2,"y":0.4,"g":"Stable"},{"x":1.87,"y":5.3,"g":"Stable"},{"x":2.18,"y":5.3,"g":"Stable"}]},"mark":{"type":"point","filled":true,"size":15,"color":"black","opacity":1},"encoding":{"shape":{"field":"g","scale":{"domain":["Active","Stable"],"range":["circle","square"]},"legend":null}}},
{"data":{"values":[{"x":1,"y":47.5,"o":1},{"x":1,"y":49.5,"o":2},{"x":2,"y":49.5,"o":3},{"x":2,"y":47.5,"o":4}]},"mark":{"type":"line","stroke":"#777","strokeWidth":1},"encoding":{"order":{"field":"o"}}},
{"data":{"values":[{"x":1.5,"y":50,"t":"0.2146"}]},"mark":{"type":"text","fontSize":6.3,"fontWeight":"bold","baseline":"bottom","dy":-1,"color":"#222"},"encoding":{"text":{"field":"t"}}},
{"data":{"values":[{"x":1.5,"y":73.2,"t":"CD8+ TCM"}]},"mark":{"type":"text","fontSize":9.5,"fontWeight":"bold","color":"#111"},"encoding":{"text":{"field":"t"}}},
{"data":{"values":[{"x":-0.238,"y":89.6,"t":"i"}]},"mark":{"type":"text","fontSize":12,"fontWeight":"bold","color":"#111"},"encoding":{"text":{"field":"t"}}}
]},
{"width":100,"height":98.5,"encoding":{"x":{"field":"x","type":"quantitative","scale":{"domain":[0.317,2.698],"nice":false,"zero":false},"axis":{"values":[1,2],"labelExpr":"datum.value==1?'Active':'Stable'","title":null}},"y":{"field":"y","type":"quantitative","scale":{"domain":[0,80],"nice":false},"axis":{"values":[0,20,40,60,80],"title":"% of CD8+"}}},"layer":[
{"data":{"values":[{"x":1,"y":36,"lo":22,"hi":50.5},{"x":2,"y":29,"lo":17.5,"hi":41}]},"layer":[{"mark":{"type":"bar","orient":"vertical","size":27,"fill":"white","stroke":"black","strokeWidth":1.5}}, {"mark":{"type":"rule","stroke":"black","strokeWidth":1.5},"encoding":{"y":{"field":"lo","type":"quantitative"},"y2":{"field":"hi"}}},{"mark":{"type":"tick","orient":"horizontal","size":14,"thickness":1.5,"color":"black","opacity":1},"encoding":{"y":{"field":"lo","type":"quantitative"}}},{"mark":{"type":"tick","orient":"horizontal","size":14,"thickness":1.5,"color":"black","opacity":1},"encoding":{"y":{"field":"hi","type":"quantitative"}}}]},
{"data":{"values":[{"x":0.94,"y":58.4,"g":"Active"},{"x":1.07,"y":58.4,"g":"Active"},{"x":0.87,"y":53.5,"g":"Active"},{"x":1.15,"y":53.5,"g":"Active"},{"x":1.02,"y":52.2,"g":"Active"},{"x":1.07,"y":44,"g":"Active"},{"x":0.94,"y":44,"g":"Active"},{"x":0.79,"y":36,"g":"Active"},{"x":1,"y":32.7,"g":"Active"},{"x":0.87,"y":32.7,"g":"Active"},{"x":1.21,"y":32.7,"g":"Active"},{"x":1.12,"y":32.7,"g":"Active"},{"x":0.94,"y":29,"g":"Active"},{"x":1.1,"y":29,"g":"Active"},{"x":1.21,"y":26.2,"g":"Active"},{"x":0.87,"y":22.4,"g":"Active"},{"x":1,"y":25.7,"g":"Active"},{"x":1.15,"y":22.9,"g":"Active"},{"x":1,"y":19.2,"g":"Active"},{"x":1,"y":8.9,"g":"Active"},{"x":1.94,"y":50.3,"g":"Stable"},{"x":2.14,"y":45.7,"g":"Stable"},{"x":2.08,"y":42.7,"g":"Stable"},{"x":1.9,"y":40.8,"g":"Stable"},{"x":2,"y":40,"g":"Stable"},{"x":2.14,"y":36.8,"g":"Stable"},{"x":1.88,"y":33.8,"g":"Stable"},{"x":1.76,"y":31.4,"g":"Stable"},{"x":2.28,"y":29.5,"g":"Stable"},{"x":2.04,"y":29.2,"g":"Stable"},{"x":1.96,"y":29.2,"g":"Stable"},{"x":1.8,"y":24.3,"g":"Stable"},{"x":2.12,"y":23.8,"g":"Stable"},{"x":2.24,"y":23,"g":"Stable"},{"x":1.92,"y":23,"g":"Stable"},{"x":2.04,"y":20.3,"g":"Stable"},{"x":2.08,"y":19.7,"g":"Stable"},{"x":1.94,"y":5.7,"g":"Stable"},{"x":2.08,"y":6.5,"g":"Stable"}]},"mark":{"type":"point","filled":true,"size":15,"color":"black","opacity":1},"encoding":{"shape":{"field":"g","scale":{"domain":["Active","Stable"],"range":["circle","square"]},"legend":null}}},
{"data":{"values":[{"x":1,"y":78,"o":1},{"x":1,"y":79.6,"o":2},{"x":2,"y":79.6,"o":3},{"x":2,"y":78,"o":4}]},"mark":{"type":"line","stroke":"#777","strokeWidth":1},"encoding":{"order":{"field":"o"}}},
{"data":{"values":[{"x":1.5,"y":80,"t":"0.2146"}]},"mark":{"type":"text","fontSize":6.3,"fontWeight":"bold","baseline":"bottom","dy":-1,"color":"#222"},"encoding":{"text":{"field":"t"}}},
{"data":{"values":[{"x":1.5,"y":93.8,"t":"CD8+ TEM"}]},"mark":{"type":"text","fontSize":9.5,"fontWeight":"bold","color":"#111"},"encoding":{"text":{"field":"t"}}},
{"data":{"values":[{"x":-0.333,"y":103.3,"t":"j"}]},"mark":{"type":"text","fontSize":12,"fontWeight":"bold","color":"#111"},"encoding":{"text":{"field":"t"}}}
]},
{"width":100,"height":98.5,"encoding":{"x":{"field":"x","type":"quantitative","scale":{"domain":[0.317,2.698],"nice":false,"zero":false},"axis":{"values":[1,2],"labelExpr":"datum.value==1?'Active':'Stable'","title":null}},"y":{"field":"y","type":"quantitative","scale":{"domain":[0,60],"nice":false},"axis":{"values":[0,20,40,60],"title":"% of CD8+"}}},"layer":[
{"data":{"values":[{"x":1,"y":12.8,"lo":6,"hi":19.6},{"x":2,"y":22,"lo":5.5,"hi":38.8}]},"layer":[{"mark":{"type":"bar","orient":"vertical","size":27,"fill":"white","stroke":"black","strokeWidth":1.5}}, {"mark":{"type":"rule","stroke":"black","strokeWidth":1.5},"encoding":{"y":{"field":"lo","type":"quantitative"},"y2":{"field":"hi"}}},{"mark":{"type":"tick","orient":"horizontal","size":14,"thickness":1.5,"color":"black","opacity":1},"encoding":{"y":{"field":"lo","type":"quantitative"}}},{"mark":{"type":"tick","orient":"horizontal","size":14,"thickness":1.5,"color":"black","opacity":1},"encoding":{"y":{"field":"hi","type":"quantitative"}}}]},
{"data":{"values":[{"x":1.06,"y":26.6,"g":"Active"},{"x":0.93,"y":25,"g":"Active"},{"x":0.75,"y":16.8,"g":"Active"},{"x":0.96,"y":16.8,"g":"Active"},{"x":1.14,"y":18.3,"g":"Active"},{"x":1,"y":17.6,"g":"Active"},{"x":1.26,"y":14.8,"g":"Active"},{"x":1.1,"y":12.8,"g":"Active"},{"x":1,"y":11.8,"g":"Active"},{"x":0.75,"y":9.7,"g":"Active"},{"x":0.87,"y":9.7,"g":"Active"},{"x":1.22,"y":9.3,"g":"Active"},{"x":1,"y":9.1,"g":"Active"},{"x":0.87,"y":6.1,"g":"Active"},{"x":1.13,"y":6.3,"g":"Active"},{"x":1,"y":2.6,"g":"Active"},{"x":0.71,"y":9.3,"g":"Active"},{"x":0.83,"y":6.6,"g":"Active"},{"x":1.93,"y":55.8,"g":"Stable"},{"x":2.07,"y":56.2,"g":"Stable"},{"x":2,"y":46.2,"g":"Stable"},{"x":2,"y":34.5,"g":"Stable"},{"x":1.93,"y":26.6,"g":"Stable"},{"x":2.05,"y":26.6,"g":"Stable"},{"x":1.79,"y":22.3,"g":"Stable"},{"x":2.21,"y":23.7,"g":"Stable"},{"x":1.93,"y":20.8,"g":"Stable"},{"x":2,"y":14,"g":"Stable"},{"x":2.09,"y":12.8,"g":"Stable"},{"x":1.89,"y":9.7,"g":"Stable"},{"x":2.15,"y":9.7,"g":"Stable"},{"x":2,"y":9.1,"g":"Stable"},{"x":1.85,"y":8.3,"g":"Stable"},{"x":2,"y":6.7,"g":"Stable"},{"x":2.09,"y":4.7,"g":"Stable"},{"x":2.09,"y":3.7,"g":"Stable"},{"x":1.93,"y":2,"g":"Stable"}]},"mark":{"type":"point","filled":true,"size":15,"color":"black","opacity":1},"encoding":{"shape":{"field":"g","scale":{"domain":["Active","Stable"],"range":["circle","square"]},"legend":null}}},
{"data":{"values":[{"x":1,"y":58.5,"o":1},{"x":1,"y":59.7,"o":2},{"x":2,"y":59.7,"o":3},{"x":2,"y":58.5,"o":4}]},"mark":{"type":"line","stroke":"#777","strokeWidth":1},"encoding":{"order":{"field":"o"}}},
{"data":{"values":[{"x":1.5,"y":60,"t":"0.0380"}]},"mark":{"type":"text","fontSize":6.3,"fontWeight":"bold","baseline":"bottom","dy":-1,"color":"#222"},"encoding":{"text":{"field":"t"}}},
{"data":{"values":[{"x":1.5,"y":70.4,"t":"CD8+ TEMRA"}]},"mark":{"type":"text","fontSize":9.5,"fontWeight":"bold","color":"#111"},"encoding":{"text":{"field":"t"}}},
{"data":{"values":[{"x":-0.343,"y":77.6,"t":"k"}]},"mark":{"type":"text","fontSize":12,"fontWeight":"bold","color":"#111"},"encoding":{"text":{"field":"t"}}}
]}
]}]}]}
]}
